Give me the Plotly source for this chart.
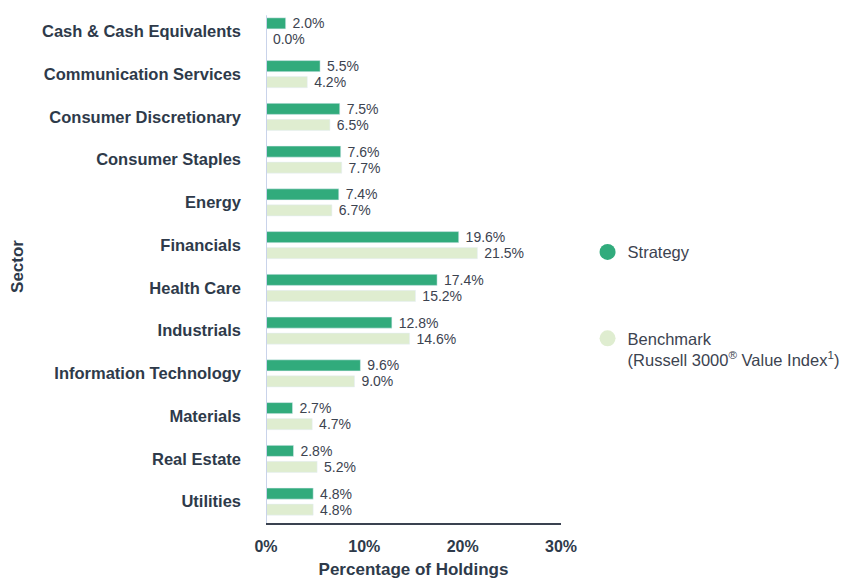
import plotly.graph_objects as go

sectors = ["Cash & Cash Equivalents", "Communication Services", "Consumer Discretionary",
           "Consumer Staples", "Energy", "Financials", "Health Care", "Industrials",
           "Information Technology", "Materials", "Real Estate", "Utilities"]
strategy = [2.0, 5.5, 7.5, 7.6, 7.4, 19.6, 17.4, 12.8, 9.6, 2.7, 2.8, 4.8]
benchmark = [0.0, 4.2, 6.5, 7.7, 6.7, 21.5, 15.2, 14.6, 9.0, 4.7, 5.2, 4.8]
x_ticks = [0, 10, 20, 30]
x_tick_labels = ["0%", "10%", "20%", "30%"]

C_STRAT = "#31AB7C"
C_BENCH = "#DFEDD0"
TXT = "#2E3A4A"
FONT = "Liberation Sans, Arial, sans-serif"

fig = go.Figure()
fig.add_trace(go.Bar(
    y=sectors, x=strategy, orientation="h", name="Strategy",
    marker=dict(color=C_STRAT), showlegend=False,
    text=[f" {v:.1f}%" for v in strategy], textposition="outside",
    constraintext="none",
    textfont=dict(size=14, color="#3C4350", family=FONT), cliponaxis=False,
    hovertemplate="%{y}: %{x:.1f}%<extra>Strategy</extra>"))
fig.add_trace(go.Bar(
    y=sectors, x=benchmark, orientation="h", name="Benchmark",
    marker=dict(color=C_BENCH), showlegend=False,
    text=[f" {v:.1f}%" for v in benchmark], textposition="outside",
    constraintext="none",
    textfont=dict(size=14, color="#3C4350", family=FONT), cliponaxis=False,
    hovertemplate="%{y}: %{x:.1f}%<extra>Benchmark</extra>"))

# legend-only entries with round markers
fig.add_trace(go.Scatter(x=[None], y=[None], mode="markers", name="Strategy",
                         marker=dict(color=C_STRAT, size=16, symbol="circle"),
                         legendgroup="a"))
fig.add_trace(go.Scatter(x=[None], y=[None], mode="markers",
                         name="Benchmark<br>(Russell 3000<sup>®</sup> Value Index<sup>1</sup>)",
                         marker=dict(color=C_BENCH, size=16, symbol="circle"),
                         legendgroup="b"))

fig.update_layout(
    width=841, height=571,
    margin=dict(l=258, r=288, t=2, b=56),
    paper_bgcolor="white", plot_bgcolor="white",
    font=dict(family=FONT, color=TXT),
    barmode="group", bargap=0.25, bargroupgap=0.31,
    showlegend=True,
    legend=dict(x=1.09, y=0.562, xanchor="left", yanchor="top",
                traceorder="grouped", tracegroupgap=62, valign="top",
                font=dict(size=16.5, color="#3C4350", family=FONT),
                itemsizing="trace"),
    xaxis=dict(range=[0, 30], tickvals=x_ticks, ticktext=x_tick_labels,
               showgrid=False, zeroline=False, showline=True, automargin=False,
               linecolor="#3A4250", linewidth=2,
               tickfont=dict(size=16, color=TXT, family=FONT, weight="bold"),
               ticklabelstandoff=8,
               title=dict(text="<b>Percentage of Holdings</b>",
                          font=dict(size=17, color=TXT, family=FONT), standoff=15)),
    yaxis=dict(autorange="reversed", showgrid=False, zeroline=False,
               showline=False, automargin=False,
               tickfont=dict(size=16.5, color=TXT, family=FONT, weight="bold"),
               ticklabelstandoff=24,
               title=dict(text="<b>Sector</b>",
                          font=dict(size=17, color=TXT, family=FONT), standoff=16)),
    shapes=[dict(type="line", xref="x", yref="paper", x0=0, x1=0, y0=0, y1=0.99,
                 line=dict(color="#C9D3EA", width=2), layer="above")],
)

fig.write_html("out.html")
